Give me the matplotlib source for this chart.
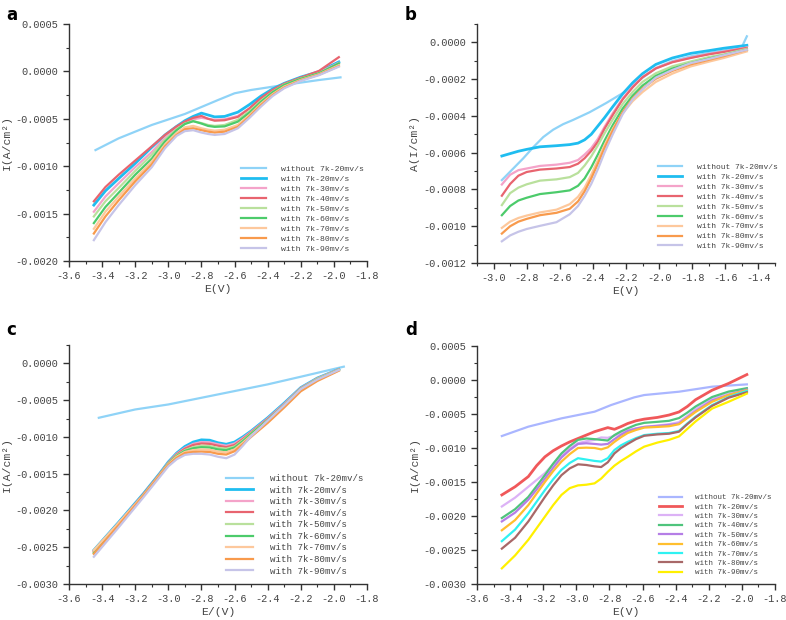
import matplotlib
matplotlib.use('Agg')
import matplotlib.pyplot as plt
from matplotlib.ticker import MultipleLocator, FuncFormatter
import numpy as np

plt.rcParams['font.family'] = ['Liberation Mono', 'DejaVu Sans']

labels = ['without 7k-20mv/s', 'with 7k-20mv/s', 'with 7k-30mv/s', 'with 7k-40mv/s',
          'with 7k-50mv/s', 'with 7k-60mv/s', 'with 7k-70mv/s', 'with 7k-80mv/s',
          'with 7k-90mv/s']

colors_abc = ['#8fd3f7', '#1fbdf0', '#f4a3c9', '#e8646f', '#b9e09c',
              '#4ccb6b', '#fdc89c', '#f89a4c', '#c6c4e8']
colors_d = ['#aab6ff', '#f0585a', '#dcb2f6', '#4fc47c', '#b57ee6',
            '#ffbf2e', '#2ff2f2', '#a86868', '#fff000']

# ---- panel a (values in 1e-4 A/cm2) ----
a_x0 = [-3.44, -3.30, -3.10, -2.90, -2.70, -2.60, -2.50, -2.30, -2.09, -1.96]
a_y0 = [-8.3, -7.06, -5.65, -4.49, -3.02, -2.31, -1.96, -1.43, -0.91, -0.63]
a_x = [-3.45, -3.38, -3.30, -3.20, -3.10, -3.02, -2.95, -2.90, -2.85, -2.80, -2.76,
       -2.72, -2.66, -2.58, -2.51, -2.44, -2.37, -2.30, -2.20, -2.09, -1.97]
a_20 = [-14.1, -12.6, -11.3, -9.7, -8.0, -6.7, -5.8, -5.2, -4.75, -4.4, -4.6,
        -4.8, -4.75, -4.3, -3.5, -2.6, -1.85, -1.26, -0.6, -0.03, 1.0]
a_30 = [-14.8, -13.2, -11.8, -10.1, -8.5, -7.0, -6.0, -5.4, -5.05, -4.9, -5.0,
        -5.1, -5.05, -4.7, -3.9, -2.9, -2.0, -1.35, -0.7, -0.1, 0.9]
a_40 = [-13.7, -12.2, -10.9, -9.4, -7.9, -6.7, -5.8, -5.3, -4.9, -4.7, -5.0,
        -5.2, -5.15, -4.8, -3.9, -2.8, -1.95, -1.3, -0.65, 0.05, 1.5]
a_50 = [-15.3, -13.7, -12.3, -10.5, -8.8, -7.2, -6.1, -5.5, -5.25, -5.45, -5.65,
        -5.75, -5.65, -5.1, -4.2, -3.1, -2.15, -1.4, -0.75, -0.2, 0.8]
a_60 = [-16.0, -14.3, -12.8, -10.9, -9.2, -7.4, -6.2, -5.55, -5.25, -5.5, -5.75,
        -5.85, -5.8, -5.3, -4.35, -3.2, -2.2, -1.43, -0.78, -0.2, 0.85]
a_70 = [-16.6, -14.8, -13.2, -11.3, -9.5, -7.7, -6.5, -5.9, -5.75, -6.0, -6.15,
        -6.25, -6.15, -5.65, -4.6, -3.4, -2.4, -1.6, -0.9, -0.3, 0.65]
a_80 = [-17.1, -15.3, -13.6, -11.6, -9.8, -7.9, -6.7, -6.1, -6.0, -6.2, -6.35,
        -6.45, -6.35, -5.85, -4.75, -3.55, -2.5, -1.7, -0.95, -0.35, 0.55]
a_90 = [-17.8, -15.9, -14.1, -12.0, -10.1, -8.1, -6.8, -6.3, -6.2, -6.45, -6.6,
        -6.7, -6.6, -6.0, -4.9, -3.7, -2.6, -1.78, -1.0, -0.4, 0.5]

# ---- panel b ----
b_x0 = [-2.95, -2.88, -2.82, -2.76, -2.70, -2.64, -2.58, -2.52, -2.42, -2.32,
        -2.22, -2.16, -2.10, -2.02, -1.92, -1.81, -1.70, -1.61, -1.50, -1.47]
b_y0 = [-7.49, -6.85, -6.30, -5.70, -5.15, -4.75, -4.45, -4.22, -3.80, -3.30,
        -2.76, -2.35, -1.92, -1.40, -1.02, -0.76, -0.58, -0.45, -0.25, 0.33]
b_x = [-2.95, -2.90, -2.85, -2.80, -2.72, -2.62, -2.54, -2.49, -2.45, -2.41, -2.37,
       -2.33, -2.28, -2.22, -2.16, -2.10, -2.02, -1.92, -1.81, -1.70, -1.61, -1.47]
b_20 = [-6.18, -6.05, -5.92, -5.82, -5.68, -5.62, -5.56, -5.48, -5.30, -5.0, -4.55,
        -4.1, -3.5, -2.8, -2.2, -1.7, -1.2, -0.85, -0.6, -0.45, -0.32, -0.16]
b_30 = [-7.73, -7.2, -6.95, -6.86, -6.72, -6.65, -6.55, -6.4, -6.1, -5.75, -5.25,
        -4.6, -3.85, -3.05, -2.4, -1.88, -1.4, -1.06, -0.83, -0.63, -0.5, -0.28]
b_40 = [-8.34, -7.7, -7.25, -7.05, -6.92, -6.86, -6.78, -6.6, -6.3, -5.9, -5.4,
        -4.7, -3.95, -3.1, -2.45, -1.9, -1.42, -1.08, -0.85, -0.65, -0.52, -0.30]
b_50 = [-8.85, -8.2, -7.9, -7.72, -7.52, -7.45, -7.33, -7.1, -6.7, -6.2, -5.6,
        -4.95, -4.2, -3.35, -2.7, -2.15, -1.68, -1.3, -1.04, -0.8, -0.65, -0.35]
b_60 = [-9.40, -8.9, -8.6, -8.45, -8.25, -8.15, -8.05, -7.8, -7.4, -6.8, -6.1,
        -5.35, -4.5, -3.6, -2.9, -2.35, -1.82, -1.42, -1.13, -0.88, -0.7, -0.40]
b_70 = [-10.09, -9.75, -9.55, -9.42, -9.25, -9.1, -8.8, -8.4, -7.9, -7.2, -6.4,
        -5.6, -4.7, -3.85, -3.2, -2.7, -2.15, -1.7, -1.31, -1.05, -0.85, -0.49]
b_80 = [-10.40, -10.0, -9.75, -9.6, -9.4, -9.27, -9.05, -8.65, -8.1, -7.4, -6.6,
        -5.75, -4.8, -3.8, -3.05, -2.5, -1.98, -1.55, -1.2, -0.95, -0.75, -0.40]
b_90 = [-10.82, -10.5, -10.3, -10.15, -9.98, -9.78, -9.35, -8.9, -8.35, -7.7, -6.9,
        -6.0, -5.0, -3.9, -3.1, -2.55, -1.92, -1.5, -1.13, -0.9, -0.7, -0.40]

# ---- panel c ----
c_x0 = [-3.42, -3.20, -3.00, -2.80, -2.60, -2.40, -2.20, -1.94]
c_y0 = [-7.4, -6.27, -5.59, -4.68, -3.77, -2.86, -1.82, -0.45]
c_x = [-3.45, -3.30, -3.15, -3.05, -3.00, -2.95, -2.90, -2.85, -2.80, -2.75,
       -2.70, -2.65, -2.60, -2.55, -2.50, -2.40, -2.30, -2.20, -2.10, -1.97]
c_20 = [-25.4, -21.6, -17.7, -14.9, -13.4, -12.2, -11.3, -10.7, -10.4, -10.45,
        -10.8, -11.0, -10.7, -10.0, -9.2, -7.4, -5.4, -3.3, -2.0, -0.8]
c_30 = [-25.5, -21.7, -17.8, -15.0, -13.5, -12.3, -11.5, -10.95, -10.7, -10.75,
        -11.0, -11.2, -10.9, -10.15, -9.3, -7.5, -5.5, -3.35, -2.05, -0.8]
c_40 = [-25.6, -21.8, -17.8, -15.0, -13.55, -12.4, -11.6, -11.1, -10.9, -10.95,
        -11.2, -11.4, -11.1, -10.3, -9.4, -7.6, -5.6, -3.4, -2.1, -0.85]
c_50 = [-25.7, -21.8, -17.9, -15.1, -13.6, -12.5, -11.8, -11.4, -11.2, -11.25,
        -11.5, -11.6, -11.3, -10.45, -9.5, -7.7, -5.65, -3.45, -2.1, -0.85]
c_60 = [-25.8, -21.9, -17.9, -15.1, -13.65, -12.6, -11.9, -11.55, -11.4, -11.45,
        -11.7, -11.8, -11.45, -10.6, -9.6, -7.75, -5.7, -3.5, -2.2, -0.9]
c_70 = [-25.4, -21.7, -17.9, -15.1, -13.7, -12.7, -12.05, -11.8, -11.7, -11.75,
        -12.0, -12.1, -11.7, -10.8, -9.8, -7.9, -5.8, -3.6, -2.3, -0.95]
c_80 = [-25.9, -22.0, -18.0, -15.2, -13.8, -12.85, -12.2, -12.05, -12.0, -12.05,
        -12.3, -12.4, -11.95, -11.0, -10.0, -8.1, -6.0, -3.8, -2.4, -1.0]
c_90 = [-26.3, -22.3, -18.2, -15.4, -14.0, -13.05, -12.45, -12.3, -12.3, -12.4,
        -12.7, -12.9, -12.4, -11.2, -9.9, -7.8, -5.7, -3.5, -2.2, -0.9]

# ---- panel d ----
d_x0 = [-3.45, -3.29, -3.09, -2.89, -2.79, -2.65, -2.59, -2.38, -2.18, -1.97]
d_y0 = [-8.24, -6.86, -5.64, -4.66, -3.68, -2.55, -2.21, -1.72, -0.98, -0.64]
d_x = [-3.45, -3.37, -3.29, -3.24, -3.19, -3.14, -3.09, -3.04, -2.99, -2.94, -2.89,
       -2.85, -2.81, -2.77, -2.73, -2.69, -2.64, -2.59, -2.51, -2.44, -2.38, -2.33,
       -2.28, -2.18, -2.08, -1.97]
d_20 = [-16.9, -15.7, -14.2, -12.6, -11.3, -10.4, -9.7, -9.1, -8.6, -8.1, -7.6,
        -7.3, -7.0, -7.25, -6.85, -6.4, -6.0, -5.75, -5.5, -5.15, -4.7, -3.9,
        -2.9, -1.5, -0.5, 0.8]
d_30 = [-18.6, -17.3, -15.7, -14.7, -13.7, -12.4, -11.2, -10.1, -9.3, -9.0, -8.8,
        -8.45, -8.5, -8.2, -7.8, -7.4, -7.1, -6.9, -6.7, -6.5, -6.2, -5.3,
        -4.3, -2.8, -2.0, -1.3]
d_40 = [-20.3, -19.0, -17.2, -15.6, -14.0, -12.3, -10.8, -9.7, -8.8, -8.6, -8.7,
        -8.8, -8.9, -8.1, -7.55, -7.1, -6.6, -6.3, -6.15, -6.0, -5.6, -4.8,
        -3.9, -2.5, -1.7, -1.2]
d_50 = [-20.8, -19.5, -17.6, -16.1, -14.5, -12.9, -11.4, -10.3, -9.4, -9.3, -9.4,
        -9.5, -9.4, -8.7, -8.05, -7.5, -7.15, -6.9, -6.75, -6.6, -6.4, -5.5,
        -4.6, -3.0, -2.2, -1.4]
d_60 = [-22.1, -20.6, -18.4, -16.7, -15.0, -13.4, -12.0, -10.9, -10.0, -9.95, -10.0,
        -10.2, -9.9, -9.1, -8.4, -7.8, -7.35, -7.0, -6.9, -6.8, -6.5, -5.6,
        -4.7, -3.2, -2.2, -1.5]
d_70 = [-23.7, -22.0, -19.6, -17.9, -16.2, -14.6, -13.2, -12.2, -11.5, -11.7, -11.9,
        -12.0, -11.5, -10.3, -9.6, -9.1, -8.55, -8.1, -7.9, -7.8, -7.5, -6.4,
        -5.4, -3.7, -2.5, -1.6]
d_80 = [-24.8, -23.2, -20.8, -19.0, -17.2, -15.5, -14.0, -13.0, -12.4, -12.5, -12.7,
        -12.8, -12.1, -10.8, -10.0, -9.4, -8.7, -8.2, -8.0, -7.9, -7.6, -6.5,
        -5.5, -3.8, -2.6, -1.8]
d_90 = [-27.7, -25.8, -23.5, -21.8, -20.1, -18.4, -16.9, -15.9, -15.5, -15.4, -15.2,
        -14.5, -13.5, -12.6, -11.9, -11.3, -10.5, -9.8, -9.2, -8.8, -8.3, -7.2,
        -6.1, -4.2, -3.2, -2.0]


def yfmt(v, pos):
    if abs(v) < 1e-12:
        v = 0.0
    return '%.4f' % v


def draw_panel(ax, x0, y0, x, ys, colors, xlim, ylim, xstep, ystep,
               xlabel, ylabel, leg_size, leg_anchor):
    ax.plot(x0, np.array(y0) * 1e-4, color=colors[0], lw=1.6, label=labels[0])
    for k, y in enumerate(ys):
        lw = 2.0 if k == 0 else 1.6
        ax.plot(x, np.array(y) * 1e-4, color=colors[k + 1], lw=lw, label=labels[k + 1],
                solid_joinstyle='round')
    ax.set_xlim(xlim)
    ax.set_ylim(ylim)
    ax.xaxis.set_major_locator(MultipleLocator(xstep))
    ax.xaxis.set_minor_locator(MultipleLocator(xstep / 2))
    ax.yaxis.set_major_locator(MultipleLocator(ystep))
    ax.yaxis.set_minor_locator(MultipleLocator(ystep / 2))
    ax.xaxis.set_major_formatter(FuncFormatter(lambda v, p: '%.1f' % v))
    ax.yaxis.set_major_formatter(FuncFormatter(yfmt))
    for s in ['top', 'right']:
        ax.spines[s].set_visible(False)
    for s in ['left', 'bottom']:
        ax.spines[s].set_color('#333333')
        ax.spines[s].set_linewidth(1.0)
    ax.tick_params(which='major', direction='out', length=4, width=1,
                   color='#333333', labelsize=7.4, labelcolor='#444444')
    ax.tick_params(which='minor', direction='out', length=2.5, width=0.8, color='#333333')
    ax.set_xlabel(xlabel, fontsize=8.2, color='#444444', labelpad=2)
    ax.set_ylabel(ylabel, fontsize=8.2, color='#444444', labelpad=3)
    leg = ax.legend(loc='lower right', bbox_to_anchor=leg_anchor, frameon=False,
                    fontsize=leg_size, handlelength=3.0, handletextpad=1.8,
                    labelspacing=0.28, borderaxespad=0.0)
    for t in leg.get_texts():
        t.set_color('#444444')


fig = plt.figure(figsize=(7.86, 6.20), dpi=100)

ax_a = fig.add_axes([0.0878, 0.579, 0.3791, 0.3823])
draw_panel(ax_a, a_x0, a_y0, a_x, [a_20, a_30, a_40, a_50, a_60, a_70, a_80, a_90],
           colors_abc, (-3.6, -1.8), (-0.002, 0.0005), 0.2, 0.0005,
           'E(V)', 'I(A/cm²)', 5.9, (1.0, 0.02))

ax_b = fig.add_axes([0.6069, 0.5758, 0.3791, 0.3855])
draw_panel(ax_b, b_x0, b_y0, b_x, [b_20, b_30, b_40, b_50, b_60, b_70, b_80, b_90],
           colors_abc, (-3.1, -1.3), (-0.0012, 0.0001), 0.2, 0.0002,
           'E(V)', 'A(I/cm²)', 5.8, (1.02, 0.04))

ax_c = fig.add_axes([0.0878, 0.0581, 0.3791, 0.3855])
draw_panel(ax_c, c_x0, c_y0, c_x, [c_20, c_30, c_40, c_50, c_60, c_70, c_80, c_90],
           colors_abc, (-3.6, -1.8), (-0.003, 0.00025), 0.2, 0.0005,
           'E/(V)', 'I(A/cm²)', 6.6, (1.0, 0.02))

ax_d = fig.add_axes([0.6069, 0.0581, 0.3791, 0.3838])
draw_panel(ax_d, d_x0, d_y0, d_x, [d_20, d_30, d_40, d_50, d_60, d_70, d_80, d_90],
           colors_d, (-3.6, -1.8), (-0.003, 0.0005), 0.2, 0.0005,
           'E(V)', 'I(A/cm²)', 5.4, (1.0, 0.02))

for lab, (fx, fy) in zip('abcd', [(0.008, 0.975), (0.515, 0.975), (0.008, 0.468), (0.515, 0.468)]):
    fig.text(fx, fy, lab, fontsize=12, fontweight='bold', family='DejaVu Sans',
             ha='left', va='center')

plt.savefig('out.png', dpi=100)
plt.close()
